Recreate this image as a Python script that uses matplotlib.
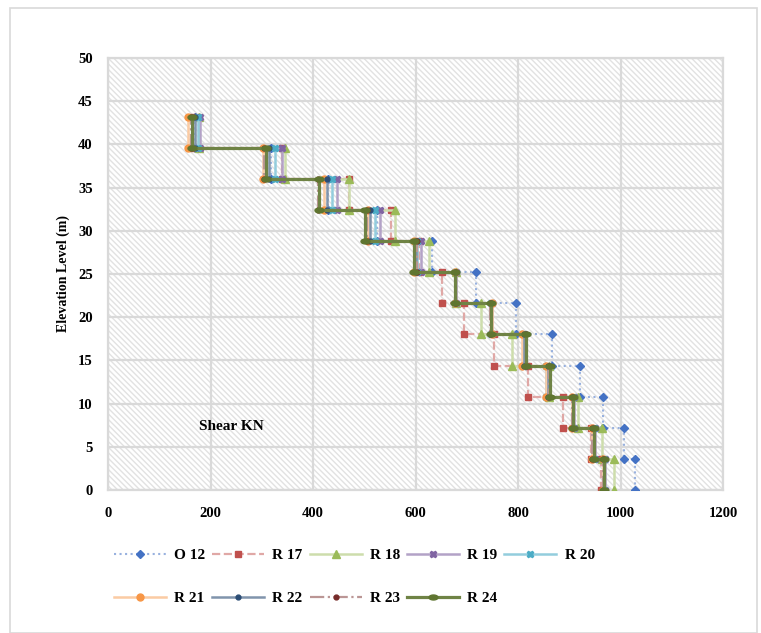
import numpy as np
import matplotlib
matplotlib.use('Agg')
import matplotlib.pyplot as plt
from matplotlib.patches import Rectangle
from matplotlib.colors import to_rgb

plt.rcParams['font.family'] = ['Liberation Serif', 'DejaVu Serif']
plt.rcParams['font.weight'] = 'bold'
plt.rcParams['hatch.linewidth'] = 1.0

# story elevations (m)
levels = [0, 3.6, 7.2, 10.8, 14.4, 18.0, 21.6, 25.2, 28.8, 32.4, 36.0, 39.6, 43.2]

# storey shear (kN), story 1 (bottom) .. story 12 (top)
O12 = [1028, 1006, 966, 920, 867, 797, 718, 632, 525, 430, 318, 170]
R17 = [962, 943, 888, 820, 753, 694, 652, 607, 553, 470, 340, 165]
R18 = [987, 964, 918, 860, 788, 727, 680, 626, 560, 470, 346, 178]
R19 = [970, 950, 910, 857, 812, 750, 680, 610, 531, 447, 339, 180]
R20 = [968, 948, 907, 855, 810, 748, 678, 603, 520, 437, 326, 175]
R21 = [966, 945, 906, 855, 808, 750, 678, 597, 508, 421, 303, 157]
R22 = [968, 948, 908, 858, 812, 748, 678, 600, 512, 428, 315, 170]
R23 = [965, 945, 905, 860, 815, 745, 680, 602, 505, 410, 305, 162]
R24 = [968, 948, 908, 862, 815, 748, 678, 598, 502, 411, 308, 163]

names = ['O 12', 'R 17', 'R 18', 'R 19', 'R 20', 'R 21', 'R 22', 'R 23', 'R 24']
series = [O12, R17, R18, R19, R20, R21, R22, R23, R24]

# elongated pill marker for R 24
t = np.linspace(0, 2 * np.pi, 30)
pill = np.column_stack([np.cos(t), 0.55 * np.sin(t)])

colors = ['#4472C4', '#C0504D', '#9BBB59', '#8064A2', '#4BACC6',
          '#F79646', '#2C4D75', '#772C2A', '#5F7530']
styles = [':', '--', '-', '-', '-', '-', '-', '-.', '-']
markers = ['D', 's', '^', 'X', 'X', 'o', 'o', 'o', pill]
msizes = [4.5, 5, 5.5, 4.5, 4.5, 5, 3.5, 3.5, 6.5]
lwidths = [1.5, 1.6, 1.8, 1.8, 1.8, 1.8, 1.8, 1.6, 2.3]
alphas = [0.55, 0.5, 0.5, 0.6, 0.6, 0.5, 0.6, 0.5, 0.9]


def light(c, a):
    r = np.array(to_rgb(c))
    return tuple(r * a + (1 - a))


def steps(vals):
    xs, ys = [], []
    for i, v in enumerate(vals):
        xs += [v, v]
        ys += [levels[i], levels[i + 1]]
    return xs, ys


fig = plt.figure(figsize=(7.61, 6.33), dpi=100)
ax = fig.add_axes([108 / 761, 1 - 490 / 633, 615 / 761, 432 / 633])

# outer frame
fig.patches.append(Rectangle((10 / 761, 0), 747 / 761, 1 - 8 / 633,
                             transform=fig.transFigure, fill=False,
                             edgecolor='#d9d9d9', lw=1.2))

# hatched plot area
ax.patch.set_visible(False)
ax.add_patch(Rectangle((0, 0), 1, 1, transform=ax.transAxes, facecolor='white',
                       edgecolor='#e2e2e2', hatch='\\\\\\\\\\\\', lw=0, zorder=0))

handles = []
for vals, nm, c, ls, mk, ms, lw, al in zip(series, names, colors, styles, markers,
                                           msizes, lwidths, alphas):
    xs, ys = steps(vals)
    h, = ax.plot(xs, ys, linestyle=ls, color=light(c, al), lw=lw, marker=mk, ms=ms,
                 mfc=c, mec=c, label=nm, zorder=3)
    handles.append(h)

ax.set_xlim(0, 1200)
ax.set_ylim(0, 50)
ax.set_xticks(np.arange(0, 1201, 200))
ax.set_yticks(np.arange(0, 51, 5))
ax.grid(True, color='#d9d9d9', lw=1.6, zorder=1)
ax.set_axisbelow(True)
for s in ax.spines.values():
    s.set_color('#d9d9d9')
    s.set_linewidth(1.6)
ax.tick_params(length=0, labelsize=10.5, pad=12)
for lab in ax.get_xticklabels() + ax.get_yticklabels():
    lab.set_fontweight('bold')
ax.tick_params(axis='y', pad=11)
ax.set_ylabel('Elevation Level (m)', fontsize=10, fontweight='bold', labelpad=6)

ax.text(177, 7.3, 'Shear KN', fontsize=11, fontweight='bold', va='center', ha='left')

# legend filled row by row
order = [0, 5, 1, 6, 2, 7, 3, 8, 4]
fig.legend([handles[i] for i in order], [names[i] for i in order],
           loc='upper left', bbox_to_anchor=(100 / 761, 1 - 535 / 633), ncol=5,
           frameon=False, handlelength=3.4, handletextpad=0.55,
           columnspacing=0.45, labelspacing=1.9, prop={'weight': 'bold', 'size': 11})

fig.savefig('out.png', dpi=100)
